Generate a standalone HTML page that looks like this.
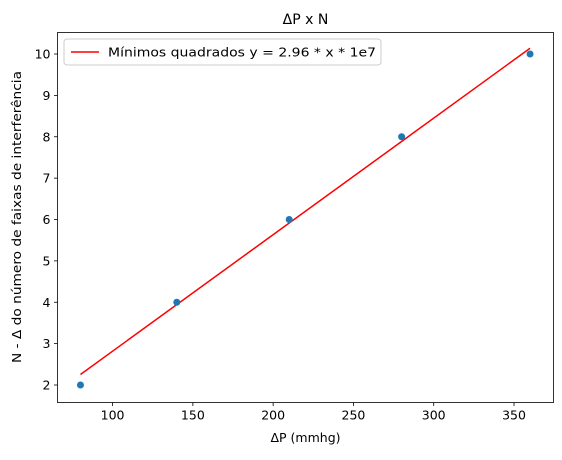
<!DOCTYPE html>
<html><head><meta charset="utf-8"><style>
body{margin:0;background:#fff;}
svg text{font-family:"DejaVu Sans","Liberation Sans",sans-serif;fill:#000;}
</style></head><body>
<svg id="chart" width="562" height="455" xmlns="http://www.w3.org/2000/svg">
<rect width="562" height="455" fill="#fff"/>
<text x="305.5" y="24" font-size="14" text-anchor="middle">ΔP x N</text>
<g id="plot"></g>
<text x="305.5" y="442" font-size="12.5" text-anchor="middle">ΔP (mmhg)</text>
<text transform="translate(21,217) rotate(-90)" font-size="12.5" text-anchor="middle" textLength="292" lengthAdjust="spacingAndGlyphs">N - Δ do número de faixas de interferência</text>
<g>
<rect x="64" y="39" width="317" height="26" rx="3" fill="#fff" stroke="#ccc"/>
<line x1="71" y1="52" x2="99" y2="52" stroke="red" stroke-width="1.5"/>
<text x="108" y="56.5" font-size="12.5" textLength="268" lengthAdjust="spacingAndGlyphs">Mínimos quadrados y = 2.96 * x * 1e7</text>
</g>
</svg>
<script>
const xData=[80,140,210,280,360];
const yData=[2,4,6,8,10];
const fitX=[80,360];
const fitY=[2.254,10.14];
const xTicks=[100,150,200,250,300,350];
const yTicks=[2,3,4,5,6,7,8,9,10];
const L=57.5,R=553.5,T=32.5,B=402.5;
const xmin=65.7,xmax=374.6,ymin=1.577,ymax=10.52;
const sx=v=>L+(v-xmin)/(xmax-xmin)*(R-L);
const sy=v=>B-(v-ymin)/(ymax-ymin)*(B-T);
const NS='http://www.w3.org/2000/svg';
const g=document.getElementById('plot');
function mk(t,a){const e=document.createElementNS(NS,t);for(const k in a)e.setAttribute(k,a[k]);g.appendChild(e);return e;}
xTicks.forEach(v=>{
 const l=mk('line',{x1:sx(v),x2:sx(v),y1:B,y2:B+3.5,stroke:'#000','stroke-width':0.8});
 
 
 const t=mk('text',{x:sx(v),y:B+17,'font-size':12.5,'text-anchor':'middle'});t.textContent=v;
 
 
});
yTicks.forEach(v=>{
 const l=mk('line',{x1:L-3.5,x2:L,y1:sy(v),y2:sy(v),stroke:'#000','stroke-width':0.8});
 
 
 const t=mk('text',{x:L-7,y:sy(v)+4.5,'font-size':12.5,'text-anchor':'end'});t.textContent=v;
 
 
});
const fl=mk('line',{x1:sx(fitX[0]),y1:sy(fitY[0]),x2:sx(fitX[1]),y2:sy(fitY[1]),stroke:'red','stroke-width':1.5});


xData.forEach((x,i)=>{
 const c=mk('circle',{cx:sx(x),cy:sy(yData[i]),r:3.5,fill:'#1f77b4'});
 
 
});
const fr=mk('rect',{x:L,y:T,width:R-L,height:B-T,fill:'none',stroke:'#000','stroke-width':0.8});


</script>
</body></html>
